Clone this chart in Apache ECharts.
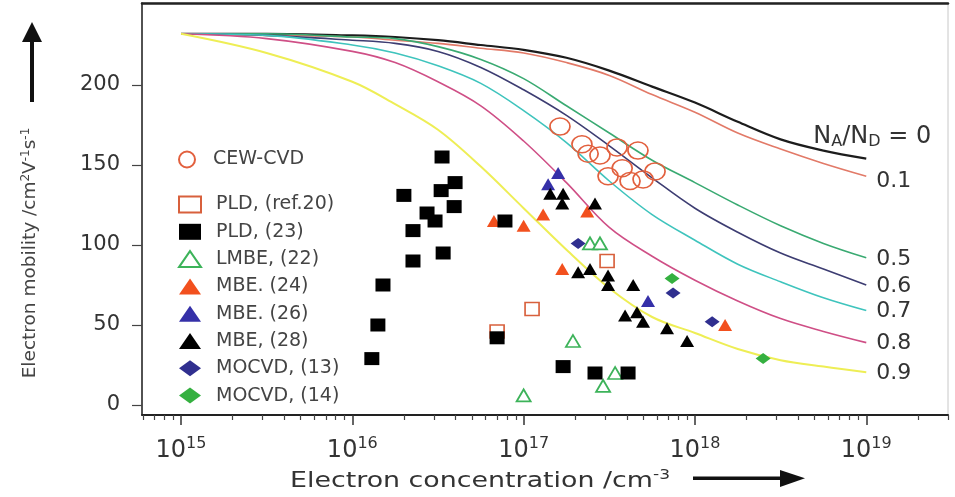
<!DOCTYPE html>
<html><head><meta charset="utf-8">
<script src="https://cdn.jsdelivr.net/npm/echarts@6/dist/echarts.min.js"></script>
<style>html,body{margin:0;padding:0;background:#fff}#c{width:955px;height:497px}</style>
</head><body><div id="c"></div>
<script>
// ---- curve abscissa (electron concentration, cm^-3)
const curveN = [1e15, 3.162e15, 1e16, 1.778e16, 3.162e16, 5.623e16, 1e17, 1.778e17, 3.162e17, 5.623e17, 1e18, 1.778e18, 3.162e18, 5.623e18, 1e19];
// ---- mobility curves for N_A/N_D ratios
const mu_0   = [232, 232, 231, 230, 228, 225, 222, 217, 209, 199, 189, 177, 166, 159, 154];
const mu_0_1 = [232, 231, 230, 228, 226, 223, 220, 214, 206, 194, 183, 170, 160, 151, 143];
const mu_0_5 = [232, 232, 230, 229, 224, 216, 204, 187, 170, 153, 139, 125, 112, 101, 92];
const mu_0_6 = [232, 231, 228, 226, 221, 211, 197, 181, 162, 142, 123, 108, 95, 85, 75];
const mu_0_7 = [232, 231, 225, 220, 212, 201, 184, 164, 140, 119, 103, 88, 77, 67, 59];
const mu_0_8 = [232, 229, 221, 214, 202, 187, 165, 139, 111, 93, 78, 65, 54, 46, 39];
const mu_0_9 = [232, 220, 202, 188, 172, 149, 123, 97, 73, 55, 45, 35, 28, 24, 20.5];
const ratioLabels = ['0', '0.1', '0.5', '0.6', '0.7', '0.8', '0.9'];

// ---- experimental points [n (cm^-3), mobility]
const cewCvd = [[1.63e17,174],[2.19e17,163],[2.38e17,157],[2.79e17,156],[3.51e17,161],[4.65e17,159],[3.11e17,143],[3.76e17,148],[4.18e17,140],[4.98e17,141],[5.85e17,146]];
const pldRef20 = [[1.12e17,60],[7.0e16,46],[3.07e17,90]];
const pld23 = [[3.34e16,155],[3.98e16,139],[3.30e16,134],[2.0e16,131],[3.93e16,124],[2.73e16,120],[3.04e16,115],[2.26e16,109],[3.39e16,95],[2.26e16,90],[1.51e16,75],[1.41e16,50],[1.30e16,29],[7.0e16,42],[7.78e16,115],[1.70e17,24],[2.61e17,20],[4.07e17,20]];
const lmbe22 = [[1.0e17,6],[1.94e17,40],[2.91e17,12],[3.42e17,20],[2.44e17,101],[2.79e17,101]];
const mbe24 = [[6.71e16,115],[1.0e17,112],[1.30e17,119],[2.35e17,121],[1.68e17,85],[1.50e18,50]];
const mbe26 = [[1.59e17,145],[1.39e17,138],[5.32e17,65]];
const mbe28 = [[1.43e17,132],[1.70e17,132],[1.68e17,126],[2.61e17,126],[2.08e17,83],[2.44e17,85],[3.11e17,81],[3.11e17,75],[4.36e17,75],[3.91e17,56],[4.59e17,58],[4.98e17,52],[6.87e17,48],[9.0e17,40]];
const mocvd13 = [[2.08e17,101],[7.45e17,70],[1.26e18,52]];
const mocvd14 = [[7.35e17,79],[2.5e18,29]];

// ---- axis ticks
const xMajorTicks = [1e15, 1e16, 1e17, 1e18, 1e19];
const xMinorTicks = [];
[1e14, 1e15, 1e16, 1e17, 1e18, 1e19].forEach(d => { for (let k = 2; k <= 9; k++) xMinorTicks.push(k * d); });
const yTicks = [0, 50, 100, 150, 200];

const FONT = 'DejaVu Sans';
const X_MIN = 5.92e14, X_MAX = 3.0e19;

const curves = [
  {data: mu_0,   color: '#1c1c1c', width: 2.2},
  {data: mu_0_1, color: '#e27a68', width: 1.6},
  {data: mu_0_5, color: '#3aaa72', width: 1.6},
  {data: mu_0_6, color: '#3d3d72', width: 1.6},
  {data: mu_0_7, color: '#3fc4bd', width: 1.6},
  {data: mu_0_8, color: '#cf4f86', width: 1.6},
  {data: mu_0_9, color: '#eeee55', width: 2}
];

const lineSeries = curves.map((c, i) => ({
  type: 'line',
  name: 'NA/ND=' + ratioLabels[i],
  data: curveN.map((n, j) => [n, c.data[j]]),
  smooth: 0.35,
  showSymbol: false,
  silent: true,
  z: 2,
  lineStyle: {color: c.color, width: c.width},
  endLabel: i === 0 ? {
    show: true,
    formatter: '{n|N}{s|A}{n|/N}{s|D}{n| = 0}',
    offset: [-58, -22],
    distance: 5,
    rich: {
      n: {fontFamily: FONT, fontSize: 24, color: '#333'},
      s: {fontFamily: FONT, fontSize: 16, color: '#333', padding: [10, 0, 0, 0]}
    }
  } : {
    show: true,
    formatter: ratioLabels[i],
    distance: 10,
    offset: [0, i === 1 ? 5 : 1],
    fontFamily: FONT, fontSize: 22, color: '#333'
  }
}));

function sc(name, data, symbol, size, style, z) {
  return {type: 'scatter', name, data, symbol, symbolSize: size,
    itemStyle: Object.assign({opacity: 1}, style), z: z || 3, silent: true};
}
const hollow = 'rgba(255,255,255,0)';
const scatterSeries = [
  sc('CEW-CVD', cewCvd, 'circle', [20, 17], {color: hollow, borderColor: '#e2603e', borderWidth: 1.6}),
  sc('PLD, (ref.20)', pldRef20, 'rect', [14, 13], {color: '#fff', borderColor: '#d8603c', borderWidth: 1.6}),
  sc('PLD, (23)', pld23, 'rect', [15, 13], {color: '#000'}, 4),
  sc('LMBE, (22)', lmbe22, 'triangle', [14, 12], {color: '#fff', borderColor: '#3db35a', borderWidth: 1.8}),
  sc('MBE. (24)', mbe24, 'triangle', [14, 12], {color: '#f2501e'}),
  sc('MBE. (26)', mbe26, 'triangle', [14, 12], {color: '#3530a8'}),
  sc('MBE, (28)', mbe28, 'triangle', [14, 12], {color: '#000'}),
  sc('MOCVD, (13)', mocvd13, 'diamond', [15, 11], {color: '#302f8f'}),
  sc('MOCVD, (14)', mocvd14, 'diamond', [15, 11], {color: '#35b040'})
];

const legendBase = {
  orient: 'vertical', left: 173, itemWidth: 22, itemHeight: 16,
  selectedMode: false, symbolKeepAspect: true,
  textStyle: {fontFamily: FONT, fontSize: 19, color: '#444', padding: [0, 0, 0, 10]}
};

const chart = echarts.init(document.getElementById('c'), null, {renderer: 'canvas'});
chart.setOption({
  animation: false,
  backgroundColor: '#fff',
  grid: {left: 142, right: 7, top: 3, bottom: 82, show: true, borderColor: '#c8c8c8', borderWidth: 1},
  legend: [
    Object.assign({}, legendBase, {top: 145, data: ['CEW-CVD']}),
    Object.assign({}, legendBase, {top: 190, itemGap: 8.3,
      data: ['PLD, (ref.20)', 'PLD, (23)', 'LMBE, (22)', 'MBE. (24)', 'MBE. (26)', 'MBE, (28)', 'MOCVD, (13)', 'MOCVD, (14)']})
  ],
  xAxis: [
    {
      type: 'log', min: X_MIN, max: X_MAX, position: 'bottom',
      axisLine: {onZero: false, lineStyle: {color: '#222', width: 2}},
      axisTick: {show: true, customValues: xMajorTicks, length: 10, lineStyle: {color: '#333', width: 1.5}},
      axisLabel: {
        customValues: xMajorTicks, margin: 21,
        formatter: v => '{b|10}{s|' + Math.round(Math.log10(v)) + '}',
        rich: {
          b: {fontFamily: FONT, fontSize: 24, color: '#333'},
          s: {fontFamily: FONT, fontSize: 16, color: '#333', padding: [0, 0, 13, 0]}
        }
      },
      splitLine: {show: false}
    },
    {
      type: 'log', min: X_MIN, max: X_MAX, position: 'bottom',
      axisLine: {show: false, onZero: false},
      axisTick: {show: true, customValues: xMinorTicks, length: 5, lineStyle: {color: '#444', width: 1.2}},
      axisLabel: {show: false},
      splitLine: {show: false}
    },
    {
      type: 'log', min: X_MIN, max: X_MAX, position: 'top',
      axisLine: {onZero: false, lineStyle: {color: '#222', width: 2.5}},
      axisTick: {show: false}, axisLabel: {show: false}, splitLine: {show: false}
    }
  ],
  yAxis: [{
    type: 'value', min: -6.25, max: 251.25, position: 'left',
    axisLine: {onZero: false, lineStyle: {color: '#222', width: 1.5}},
    axisTick: {show: true, customValues: yTicks, length: 10, lineStyle: {color: '#444', width: 1.2}},
    axisLabel: {customValues: yTicks, margin: 22, fontFamily: FONT, fontSize: 21, color: '#333'},
    splitLine: {show: false}
  }],
  series: lineSeries.concat(scatterSeries),
  graphic: [
    {
      type: 'text', x: 30, y: 253, rotation: Math.PI / 2,
      style: {
        text: 'Electron mobility /cm{s|2}V{s|-1}s{s|-1}',
        fontFamily: FONT, fontSize: 18.5, fill: '#444',
        align: 'center', verticalAlign: 'middle',
        rich: {s: {fontFamily: FONT, fontSize: 12, fill: '#444', padding: [0, 0, 9, 0]}}
      }
    },
    {type: 'rect', shape: {x: 30, y: 40, width: 4, height: 62}, style: {fill: '#111'}},
    {type: 'polygon', shape: {points: [[22, 42], [42, 42], [32, 22]]}, style: {fill: '#111'}},
    {
      type: 'text', x: 480, y: 481, scaleX: 1.22,
      style: {
        text: 'Electron concentration /cm{s|-3}',
        fontFamily: FONT, fontSize: 22, fill: '#333',
        align: 'center', verticalAlign: 'middle',
        rich: {s: {fontFamily: FONT, fontSize: 14, fill: '#333', padding: [0, 0, 12, 0]}}
      }
    },
    {type: 'rect', shape: {x: 693, y: 476.5, width: 90, height: 3.5}, style: {fill: '#111'}},
    {type: 'polygon', shape: {points: [[780, 470], [780, 487], [805, 478.3]]}, style: {fill: '#111'}}
  ]
});
</script></body></html>
